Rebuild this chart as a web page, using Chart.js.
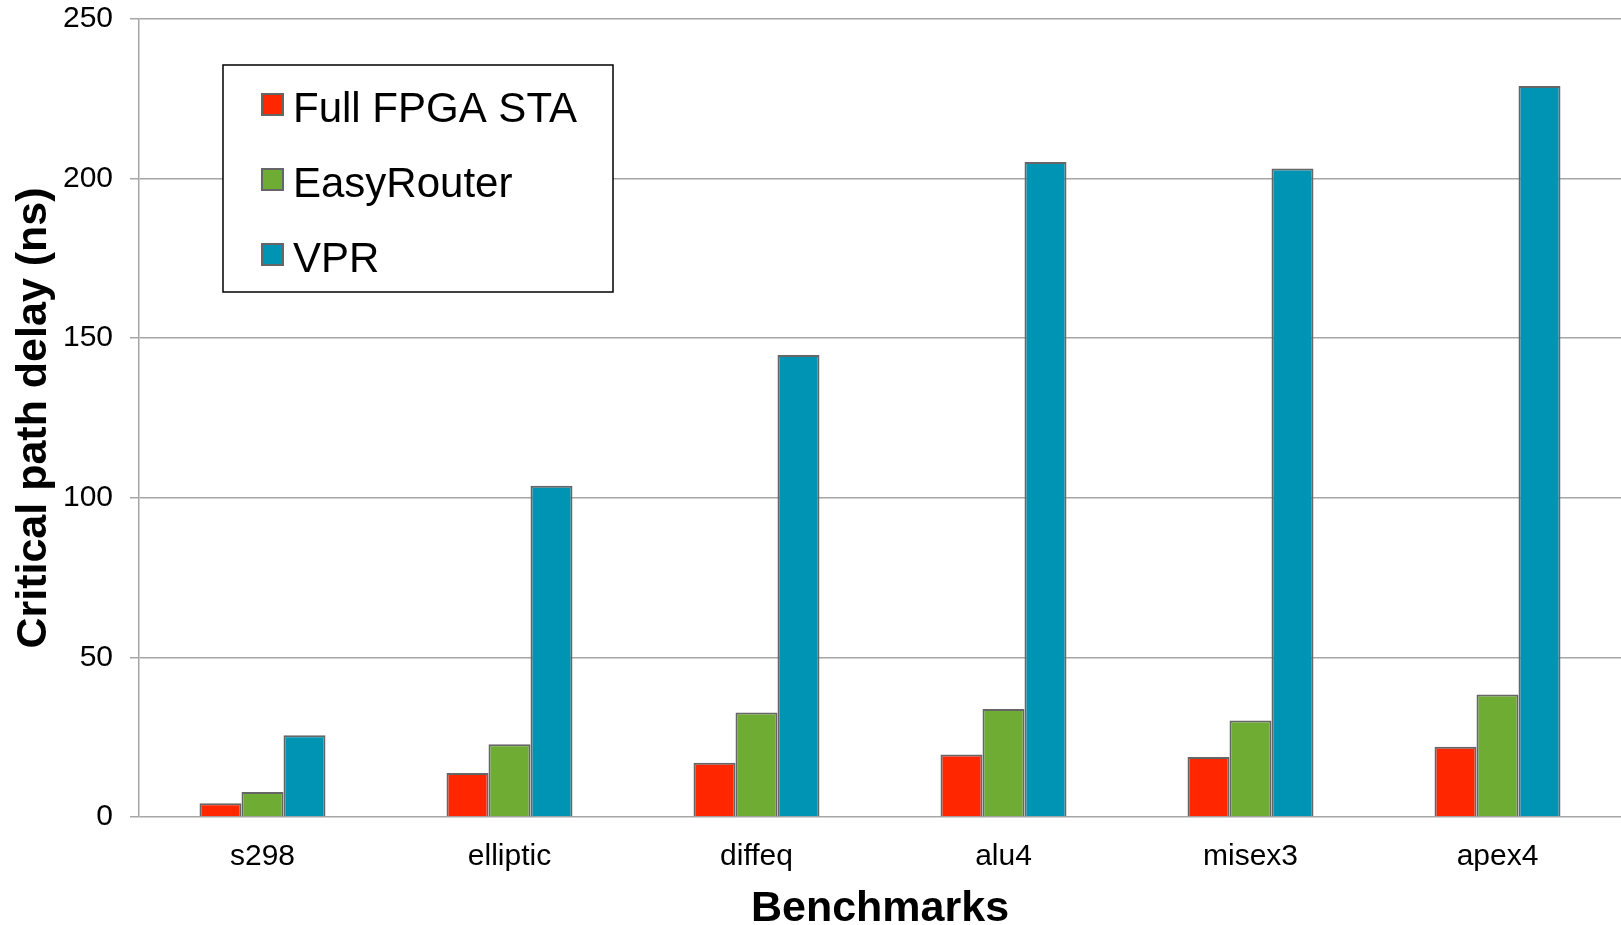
<!DOCTYPE html>
<html>
<head>
<meta charset="utf-8">
<script src="https://cdn.jsdelivr.net/npm/chart.js@4/dist/chart.umd.min.js"></script>
<style>
  html, body { margin: 0; padding: 0; background: #ffffff; }
  #wrap { width: 1621px; height: 925px; position: relative; }
</style>
</head>
<body>
<div id="wrap"><canvas id="c" width="1621" height="925"></canvas></div>
<script>
// Benchmark circuits and critical path delays (ns)
const benchmarks = ['s298', 'elliptic', 'diffeq', 'alu4', 'misex3', 'apex4'];
const fullFpgaSta = [4.3, 13.8, 17.0, 19.6, 18.8, 22.0];
const easyRouter = [7.8, 22.8, 32.7, 33.8, 30.2, 38.4];
const vpr = [25.6, 103.8, 144.7, 205.2, 203.2, 229.0];
const yTicks = [0, 50, 100, 150, 200, 250];

const seriesNames = ['Full FPGA STA', 'EasyRouter', 'VPR'];
const seriesColors = ['#ff2600', '#6fac34', '#0094b4'];

const FONT = '"Liberation Sans", Arial, Helvetica, sans-serif';

// Boxed legend drawn inside the plot area
const boxedLegend = {
  id: 'boxedLegend',
  afterDraw(chart) {
    const ctx = chart.ctx;
    const box = { x: 223, y: 65, w: 390, h: 227 };
    ctx.save();
    ctx.fillStyle = '#ffffff';
    ctx.fillRect(box.x, box.y, box.w, box.h);
    ctx.strokeStyle = '#000000';
    ctx.lineWidth = 1.5;
    ctx.strokeRect(box.x, box.y, box.w, box.h);
    ctx.font = '42px ' + FONT;
    ctx.textBaseline = 'alphabetic';
    ctx.textAlign = 'left';
    chart.data.datasets.forEach((ds, i) => {
      const base = 122 + i * 75;
      ctx.fillStyle = ds.backgroundColor;
      ctx.fillRect(262, base - 28, 21, 21);
      ctx.strokeStyle = '#666666';
      ctx.lineWidth = 2;
      ctx.strokeRect(262, base - 28, 21, 21);
      ctx.fillStyle = '#000000';
      ctx.fillText(ds.label, 293, base);
    });
    ctx.restore();
  }
};

const seriesData = [fullFpgaSta, easyRouter, vpr];

new Chart(document.getElementById('c'), {
  type: 'bar',
  data: {
    labels: benchmarks,
    datasets: seriesData.map((vals, i) => ({
      label: seriesNames[i],
      data: vals,
      backgroundColor: seriesColors[i],
      borderColor: '#666666',
      borderWidth: 2,
      categoryPercentage: 0.51,
      barPercentage: 1.0
    }))
  },
  options: {
    responsive: false,
    animation: false,
    layout: { padding: { top: 19, right: 0, left: 0, bottom: 0 } },
    plugins: {
      legend: { display: false },
      tooltip: { enabled: false }
    },
    scales: {
      x: {
        grid: { display: false, drawTicks: false },
        border: { display: false },
        ticks: {
          color: '#000000',
          font: { family: FONT, size: 30 },
          padding: 22
        },
        title: {
          display: true,
          text: 'Benchmarks',
          color: '#000000',
          font: { family: FONT, size: 43, weight: 'bold', lineHeight: 0.75 },
          padding: { top: 0, bottom: 0 }
        },
        afterFit(scale) { scale.height = 108; }
      },
      y: {
        min: 0,
        max: 250,
        afterBuildTicks(scale) { scale.ticks = yTicks.map(v => ({ value: v })); },
        grid: { color: '#a6a6a6', lineWidth: 1.5, tickLength: 9 },
        border: { display: true, color: '#a6a6a6', width: 1.5 },
        ticks: {
          color: '#000000',
          font: { family: FONT, size: 30, lineHeight: 0.1 },
          padding: 17
        },
        title: {
          display: true,
          text: 'Critical path delay (ns)',
          color: '#000000',
          font: { family: FONT, size: 43, weight: 'bold', lineHeight: 1.0 },
          padding: { top: 13, bottom: 0 }
        },
        afterFit(scale) { scale.width = 139; }
      }
    }
  },
  plugins: [boxedLegend]
});
</script>
</body>
</html>
